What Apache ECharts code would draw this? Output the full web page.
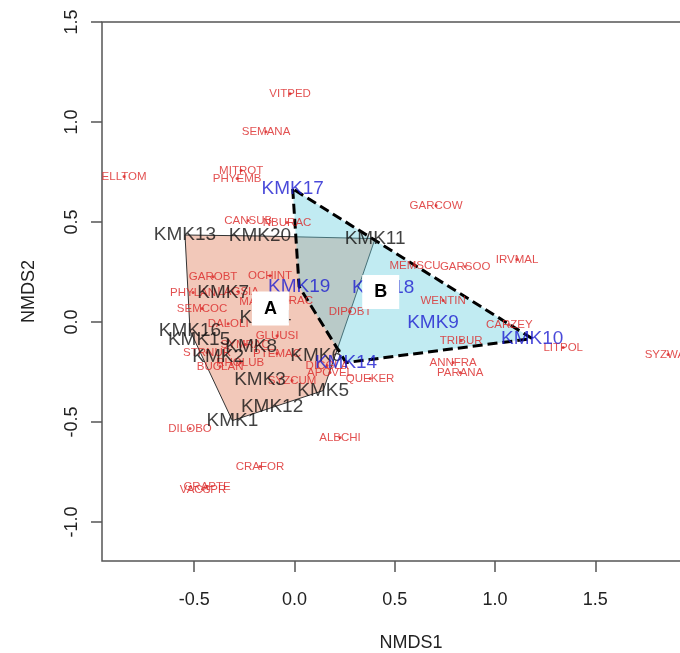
<!DOCTYPE html>
<html><head><meta charset="utf-8">
<script src="https://cdn.jsdelivr.net/npm/echarts@6/dist/echarts.min.js"></script>
<style>html,body{margin:0;padding:0;background:#fff;overflow:hidden;width:680px;height:653px}#c{width:720px;height:653px}</style>
</head><body><div id="c"></div>
<script>
// Sites (NMDS scores)
const siteNames = ['KMK1','KMK2','KMK3','KMK4','KMK5','KMK6','KMK7','KMK8','KMK9','KMK10','KMK11','KMK12','KMK13','KMK14','KMK15','KMK16','KMK17','KMK18','KMK19','KMK20'];
const siteX = [-0.310,-0.381,-0.172,-0.145,0.143,0.108,-0.356,-0.216,0.691,1.185,0.402,-0.112,-0.546,0.257,-0.476,-0.521,-0.009,0.442,0.023,-0.172];
const siteY = [-0.493,-0.173,-0.288,0.020,-0.343,-0.168,0.147,-0.123,-0.003,-0.083,0.417,-0.423,0.435,-0.203,-0.088,-0.043,0.666,0.172,0.177,0.430];
const siteGroup = ['A','A','A','A','A','A','A','A','B','B','A','A','A','B','A','A','B','B','B','A'];

// Species (NMDS scores)
const speciesNames = ['VITPED','SEMANA','ELLTOM','MITROT','PHYEMB','CANSUB','NBURAC','GARCOW','MEMSCU','GARSOO','IRVMAL','WENTIN','CARZEY','TRIBUR','LITPOL','SYZWAL','ANNFRA','PARANA','QUEKER','DIPOBT','DICGLA','APOVEL','GAROBT','OCHINT','PHYLAN','LAGSIA','MANIND','MACRAC','SEMCOC','DALOLI','GLUUSI','STRNUR','SYMRAC','PTEMAC','RHOLUB','BUCLAN','SYZCUM','DILOBO','ALBCHI','CRAFOR','GRAPTE','VACSPR'];
const speciesX = [-0.022,-0.142,-0.850,-0.266,-0.286,-0.231,-0.037,0.706,0.601,0.851,1.110,0.741,1.071,0.831,1.340,1.863,0.791,0.826,0.377,0.277,0.162,0.177,-0.406,-0.122,-0.506,-0.281,-0.162,-0.032,-0.461,-0.331,-0.087,-0.436,-0.246,-0.087,-0.271,-0.371,-0.012,-0.521,0.227,-0.172,-0.436,-0.456];
const speciesY = [1.141,0.951,0.727,0.757,0.717,0.507,0.497,0.582,0.282,0.277,0.312,0.107,-0.014,-0.094,-0.128,-0.163,-0.203,-0.253,-0.283,0.052,-0.218,-0.253,0.226,0.231,0.147,0.152,0.102,0.107,0.067,-0.009,-0.069,-0.153,-0.113,-0.158,-0.203,-0.223,-0.293,-0.533,-0.578,-0.723,-0.823,-0.838];

// Group annotation labels
const groupLabels = ['A','B'];
const groupLabelX = [-0.12, 0.43];
const groupLabelY = [0.067, 0.15];

// Axis ticks
const xTicks = [-0.5, 0.0, 0.5, 1.0, 1.5, 2.0];
const yTicks = [-1.0, -0.5, 0.0, 0.5, 1.0, 1.5];

function hull(pts){
  const p = pts.slice().sort((a,b)=>a[0]-b[0]||a[1]-b[1]);
  const cross=(o,a,b)=>(a[0]-o[0])*(b[1]-o[1])-(a[1]-o[1])*(b[0]-o[0]);
  const lo=[],up=[];
  for(const q of p){while(lo.length>=2&&cross(lo[lo.length-2],lo[lo.length-1],q)<=0)lo.pop();lo.push(q);}
  for(let i=p.length-1;i>=0;i--){const q=p[i];while(up.length>=2&&cross(up[up.length-2],up[up.length-1],q)<=0)up.pop();up.push(q);}
  up.pop();lo.pop();return lo.concat(up);
}
function groupPts(g){const r=[];siteNames.forEach((n,i)=>{if(siteGroup[i]===g)r.push([siteX[i],siteY[i]]);});return r;}
const hullA = hull(groupPts('A'));
const hullB = hull(groupPts('B'));

function hullSeries(pts, fill, stroke, width, dash, z){
  return {type:'custom',coordinateSystem:'cartesian2d',z:z,silent:true,
    data: pts, encode:{x:0,y:1},
    renderItem:function(params, api){
      if(params.dataIndex!==0) return null;
      const pp = pts.map(p=>api.coord(p));
      return {type:'polygon',shape:{points:pp},style:{fill:fill,stroke:stroke,lineWidth:width,lineDash:dash}};
    }};
}

const FONT = '"Liberation Sans", Arial, Helvetica, sans-serif';
const chart = echarts.init(document.getElementById('c'));
chart.setOption({
  animation:false,
  backgroundColor:'#fff',
  grid:{left:102,top:22,right:0,bottom:92,outerBoundsMode:'none',containLabel:false,show:true,borderColor:'#555',borderWidth:1.5,backgroundColor:'transparent'},
  xAxis:{type:'value',min:-0.96,max:2.122,
    name:'NMDS1',nameLocation:'middle',nameGap:73,nameTextStyle:{fontFamily:FONT,fontSize:18,color:'#222'},
    axisLine:{show:false,onZero:false},splitLine:{show:false},
    axisTick:{show:true,length:11,lineStyle:{color:'#555',width:1.5},customValues:xTicks},
    axisLabel:{fontFamily:FONT,fontSize:18,color:'#222',margin:30,customValues:xTicks,formatter:v=>v.toFixed(1)}},
  yAxis:{type:'value',min:-1.195,max:1.5,
    name:'NMDS2',nameLocation:'middle',nameGap:64,nameRotate:90,nameTextStyle:{fontFamily:FONT,fontSize:18,color:'#222'},
    axisLine:{show:false,onZero:false},splitLine:{show:false},
    axisTick:{show:true,length:11,lineStyle:{color:'#555',width:1.5},customValues:yTicks},
    axisLabel:{fontFamily:FONT,fontSize:18,color:'#222',rotate:90,margin:21,customValues:yTicks,formatter:v=>v.toFixed(1)}},
  series:[
    hullSeries(hullA,'rgba(222,110,72,0.38)','#333',1,null,1),
    hullSeries(hullB,'rgba(100,205,222,0.4)','#000',3,[10,5],2),
    {type:'scatter',z:3,silent:true,symbolSize:3,itemStyle:{color:'#db2626'},
      data:speciesNames.map((n,i)=>({value:[speciesX[i],speciesY[i]],name:n})),
      label:{show:true,position:'inside',formatter:p=>p.name,fontFamily:FONT,fontSize:11.5,color:'#db2626'}},
    {type:'scatter',z:4,silent:true,symbolSize:0,
      data:siteNames.map((n,i)=>({value:[siteX[i],siteY[i]],name:n,
        label:{color: siteGroup[i]==='B' ? '#1c1ccf' : '#111'}})),
      label:{show:true,position:'inside',formatter:p=>p.name,fontFamily:FONT,fontSize:19}},
    {type:'custom',coordinateSystem:'cartesian2d',z:10,zlevel:1,silent:true,
      data:groupLabels.map((n,i)=>[groupLabelX[i],groupLabelY[i]]), encode:{x:0,y:1},
      renderItem:function(params, api){
        const c = api.coord([api.value(0), api.value(1)]);
        return {type:'group',children:[
          {type:'rect',shape:{x:c[0]-18.5,y:c[1]-17,width:37,height:34},style:{fill:'#fff'}},
          {type:'text',x:c[0],y:c[1],style:{text:groupLabels[params.dataIndex],fill:'#000',font:'bold 18px '+FONT,align:'center',verticalAlign:'middle'}}
        ]};
      }}
  ]
});
</script></body></html>
